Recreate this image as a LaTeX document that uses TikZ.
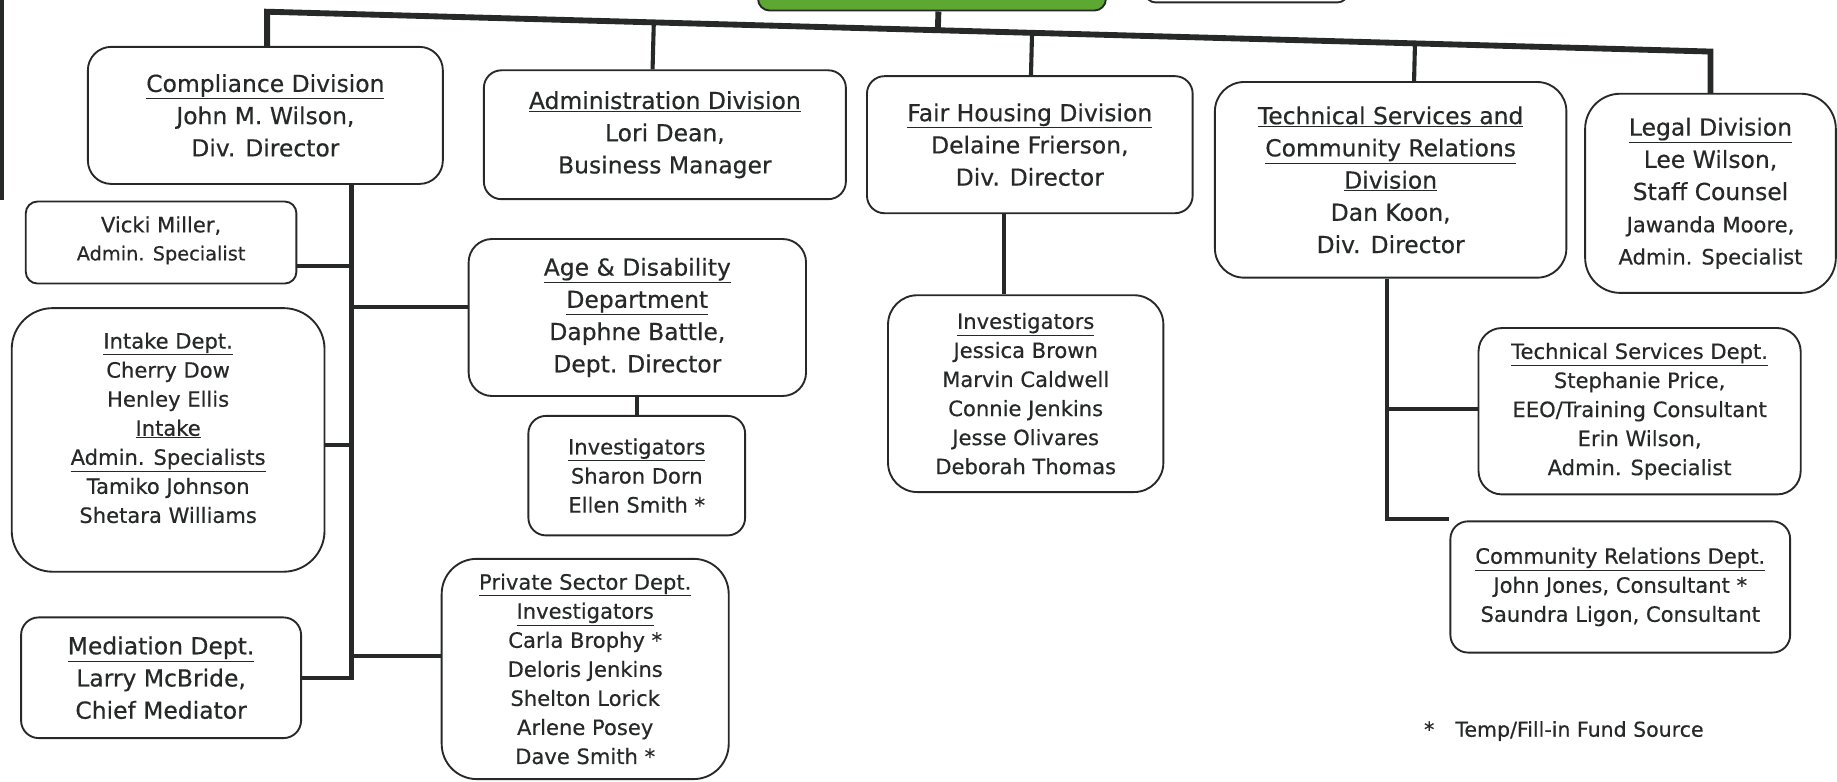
\documentclass[tikz,border=0pt]{standalone}
\usepackage{fontspec}
\setmainfont{DejaVu Sans}[FakeBold=0.5]
\usetikzlibrary{calc,positioning}
\definecolor{ink}{HTML}{262928}
\definecolor{leaf}{HTML}{5DA832}
\newcommand{\hd}[1]{$\underline{\hbox{#1}}$}

\begin{document}
\begin{tikzpicture}[x=1pt,y=-1pt,
        box/.style={draw=ink,line width=1.6pt,rounded corners=#1,align=center,text=ink,inner sep=0pt},
        box/.default=15pt,
        sz/.style 2 args={minimum width=#1pt,minimum height=#2pt},
        big/.style={font=\fontsize{20}{27.5}\selectfont},
        small/.style={font=\fontsize{18}{24.8}\selectfont},
        link/.style={draw=ink,line width=3.5pt},
        bus/.style={draw=ink,line width=5pt}]
        \useasboundingbox (0,0) rectangle (1568,667);

        % top of the chart, cut off by the page
        \node[draw=ink,fill=leaf,line width=1.6pt,rounded corners=10pt,sz={297}{60}] (chair) at (795.5,-21) {};
        \node[box=8pt,sz={172}{60}] (vice) at (1064,-28) {};
        \draw[ink,line width=3pt] (1.5,0) -- (1.5,171);

        % divisions
        \node[box=20pt,big,sz={303}{117}] (comp) at (226.5,98.5) {\hd{Compliance Division}\\John M. Wilson,\\Div. Director};
        \node[box,big,sz={309}{110}] (admin) at (567.5,115) {\hd{Administration Division}\\Lori Dean,\\Business Manager};
        \node[box,big,sz={278}{117}] (fair) at (879,123.5) {\hd{Fair Housing Division}\\Delaine Frierson,\\Div. Director};
        \node[box=25pt,big,sz={300}{167}] (tech) at (1187,153.5) {\hd{Technical Services and}\\\hd{Community Relations}\\\hd{Division}\\Dan Koon,\\Div. Director};
        \node[box=30pt,big,sz={214}{170}] (legal) at (1460,165) {\hd{Legal Division}\\Lee Wilson,\\Staff Counsel\\{\fontsize{18}{25}\selectfont Jawanda Moore,}\\{\fontsize{18}{25}\selectfont Admin. Specialist}};

        % compliance branch
        \node[box=10pt,font=\fontsize{16.5}{24}\selectfont,sz={231}{70}] (vicki) at (137.5,207) {\mbox{}\\[-14pt]{\fontsize{18}{24}\selectfont Vicki Miller,}\\Admin. Specialist};
        \node[box=35pt,small,sz={267}{225}] (intake) at (143.5,375.5) {\hd{Intake Dept.}\\Cherry Dow\\Henley Ellis\\\hd{Intake}\\\hd{Admin. Specialists}\\Tamiko Johnson\\Shetara Williams\\[-4pt]\mbox{}};
        \node[box,big,sz={239}{103}] (med) at (137.5,578.5) {\hd{Mediation Dept.}\\Larry McBride,\\Chief Mediator};
        \node[box=20pt,big,sz={288}{134}] (age) at (544,271) {\hd{Age \& Disability}\\\hd{Department}\\Daphne Battle,\\Dept. Director};
        \node[box,small,sz={185}{102}] (adinv) at (543.5,406) {\hd{Investigators}\\Sharon Dorn\\Ellen Smith *};
        \node[box=30pt,small,sz={245}{188}] (priv) at (499.5,571) {\hd{Private Sector Dept.}\\\hd{Investigators}\\Carla Brophy *\\Deloris Jenkins\\Shelton Lorick\\Arlene Posey\\Dave Smith *};

        % fair housing and technical branches
        \node[box=25pt,small,sz={235}{168}] (fhinv) at (875.5,336) {\hd{Investigators}\\Jessica Brown\\Marvin Caldwell\\Connie Jenkins\\Jesse Olivares\\Deborah Thomas};
        \node[box=20pt,small,sz={275}{142}] (tsd) at (1399.5,351) {\hd{Technical Services Dept.}\\Stephanie Price,\\EEO/Training Consultant\\Erin Wilson,\\Admin. Specialist};
        \node[box,small,sz={290}{112}] (crd) at (1383,501) {\hd{Community Relations Dept.}\\John Jones, Consultant *\\Saundra Ligon, Consultant};

        \node[anchor=west,text=ink,font=\fontsize{17.5}{20}\selectfont] (note) at (1212,624) {*\hspace{18pt}Temp/Fill-in Fund Source};

        % bus
        \coordinate (busL) at (228,10);
        \coordinate (busR) at (1460,44);
        \draw[bus] ([xshift=1.5pt]comp.north) -- (busL) -- (busR) -- (legal.north);
        \draw[bus] ([xshift=5.5pt]chair.south) -- ($(busL)!([xshift=5.5pt]chair.south)!(busR)$);
        \foreach \n/\s in {admin/-10.5,fair/1,tech/20}
            \draw[link] ([xshift=\s pt]\n.north) -- ($(busL)!([xshift=\s pt]\n.north)!(busR)$);

        % compliance trunk
        \coordinate (ctop) at ([xshift=73.5pt]comp.south);
        \coordinate (vk) at ([yshift=-20pt]vicki.east);
        \coordinate (ag) at ([yshift=9pt]age.west);
        \coordinate (ik) at ([yshift=-4.5pt]intake.east);
        \coordinate (pv) at ([yshift=11pt]priv.west);
        \draw[link] (ctop) -- (ctop |- med.east) -- (med.east);
        \draw[link] (vk) -- (vk -| ctop);
        \draw[link] (ag -| ctop) -- (ag);
        \draw[link] (ik) -- (ik -| ctop);
        \draw[link] (pv -| ctop) -- (pv);
        \draw[link] (age.south) -- (age.south |- adinv.north);

        % fair housing
        \coordinate (fh) at ([xshift=-22pt]fair.south);
        \draw[link] (fh) -- (fh |- fhinv.north);

        % technical services
        \coordinate (tt) at ([xshift=-3pt]tech.south);
        \coordinate (cr) at ([yshift=58pt]crd.west);
        \coordinate (ts) at ([yshift=2pt]tsd.west);
        \draw[link] (tt) -- (tt |- cr) -- (cr);
        \draw[link] (ts -| tt) -- (ts);
    \end{tikzpicture}
\end{document}
